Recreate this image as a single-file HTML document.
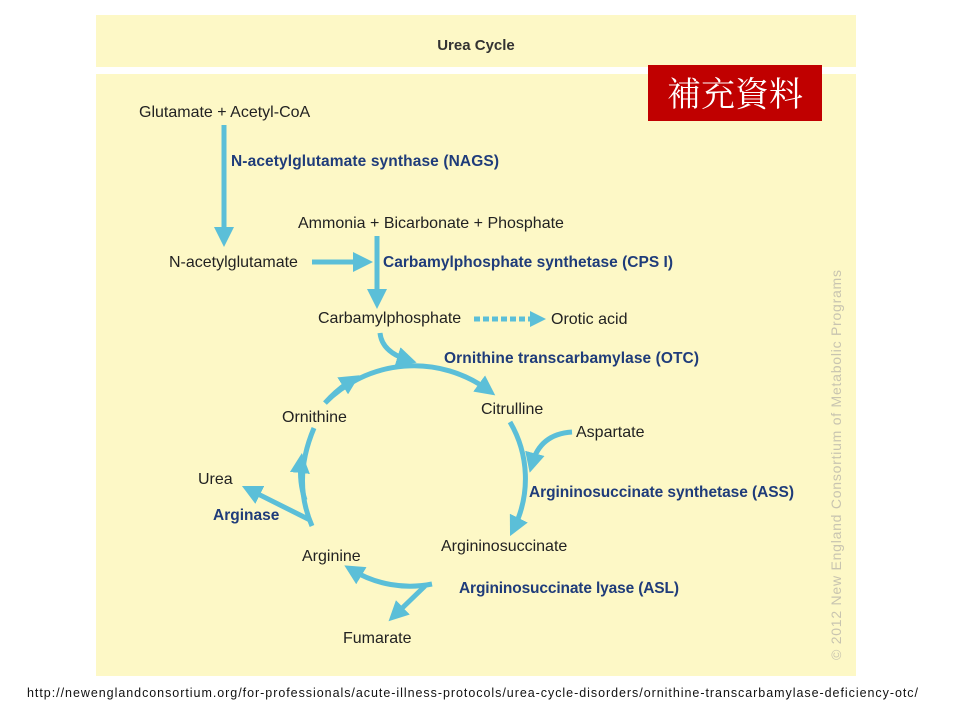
<!DOCTYPE html>
<html><head><meta charset="utf-8"><style>
body{margin:0;background:#fff;width:960px;height:720px;overflow:hidden}
svg{display:block}
text{font-family:"Liberation Sans",sans-serif}
</style></head><body>
<svg width="960" height="720" viewBox="0 0 960 720">
<defs>
<marker id="a" markerWidth="4" markerHeight="4" refX="2.2" refY="2" orient="auto" markerUnits="strokeWidth"><path d="M0,0 L4,2 L0,4 Z" fill="#5bbfd8"/></marker>
</defs>
<rect x="96" y="15" width="760" height="52" fill="#fdf8c6"/>
<rect x="96" y="74" width="760" height="602" fill="#fdf8c6"/>
<text x="476" y="50" font-size="15" font-weight="bold" fill="#333" text-anchor="middle">Urea Cycle</text>
<rect x="648" y="65" width="174" height="56" fill="#c00000"/>
<text x="735" y="106" font-size="34" fill="#fff" text-anchor="middle" style="font-family:'Noto Serif CJK SC','Noto Sans CJK TC',serif">補充資料</text>

<g fill="none" stroke="#5bbfd8" stroke-width="5">
<path d="M224 125 V238" marker-end="url(#a)"/>
<path d="M312 262 H364" marker-end="url(#a)"/>
<path d="M377 236 V300" marker-end="url(#a)"/>
<path d="M474 319 H530" stroke-dasharray="6,3" />
<path d="M380 333 Q382 352 408 360" marker-end="url(#a)"/>
<path d="M325 403 A125 125 0 0 1 488 390" marker-end="url(#a)"/>
<path d="M325 403 A125 125 0 0 1 352 380" marker-end="url(#a)"/>
<path d="M510 422 A112 112 0 0 1 514 528" marker-end="url(#a)"/>
<path d="M572 432 Q540 434 532 464" marker-end="url(#a)"/>
<path d="M432 584 A112 112 0 0 1 352 570" marker-end="url(#a)"/>
<path d="M425 586 L395 615" marker-end="url(#a)"/>
<path d="M312 526 Q292 480 314 428"/>
<path d="M305 500 Q299 482 301 462" marker-end="url(#a)"/>
<path d="M310 520 L250 490" marker-end="url(#a)"/>
</g>
<path d="M530 311 L546 319 L530 327 Z" fill="#5bbfd8"/>

<g font-size="16" fill="#222">
<text x="139" y="117">Glutamate + Acetyl-CoA</text>
<text x="298" y="228">Ammonia + Bicarbonate + Phosphate</text>
<text x="169" y="267">N-acetylglutamate</text>
<text x="318" y="323">Carbamylphosphate</text>
<text x="551" y="324">Orotic acid</text>
<text x="282" y="422">Ornithine</text>
<text x="481" y="414">Citrulline</text>
<text x="576" y="437">Aspartate</text>
<text x="198" y="484">Urea</text>
<text x="441" y="551">Argininosuccinate</text>
<text x="302" y="561">Arginine</text>
<text x="343" y="643">Fumarate</text>
</g>
<g font-size="15.5" font-weight="bold" fill="#1f3c7a">
<text x="231" y="166" textLength="268">N-acetylglutamate synthase (NAGS)</text>
<text x="383" y="267" textLength="290">Carbamylphosphate synthetase (CPS I)</text>
<text x="444" y="363" textLength="255">Ornithine transcarbamylase (OTC)</text>
<text x="529" y="497" textLength="265">Argininosuccinate synthetase (ASS)</text>
<text x="213" y="520">Arginase</text>
<text x="459" y="593" textLength="220">Argininosuccinate lyase (ASL)</text>
</g>
<text transform="translate(841,660) rotate(-90)" font-size="14" fill="#c8c4b0" textLength="390">© 2012 New England Consortium of Metabolic Programs</text>
<text x="27" y="697" font-size="12.5" fill="#111" textLength="891">http://newenglandconsortium.org/for-professionals/acute-illness-protocols/urea-cycle-disorders/ornithine-transcarbamylase-deficiency-otc/</text>
</svg>
</body></html>
